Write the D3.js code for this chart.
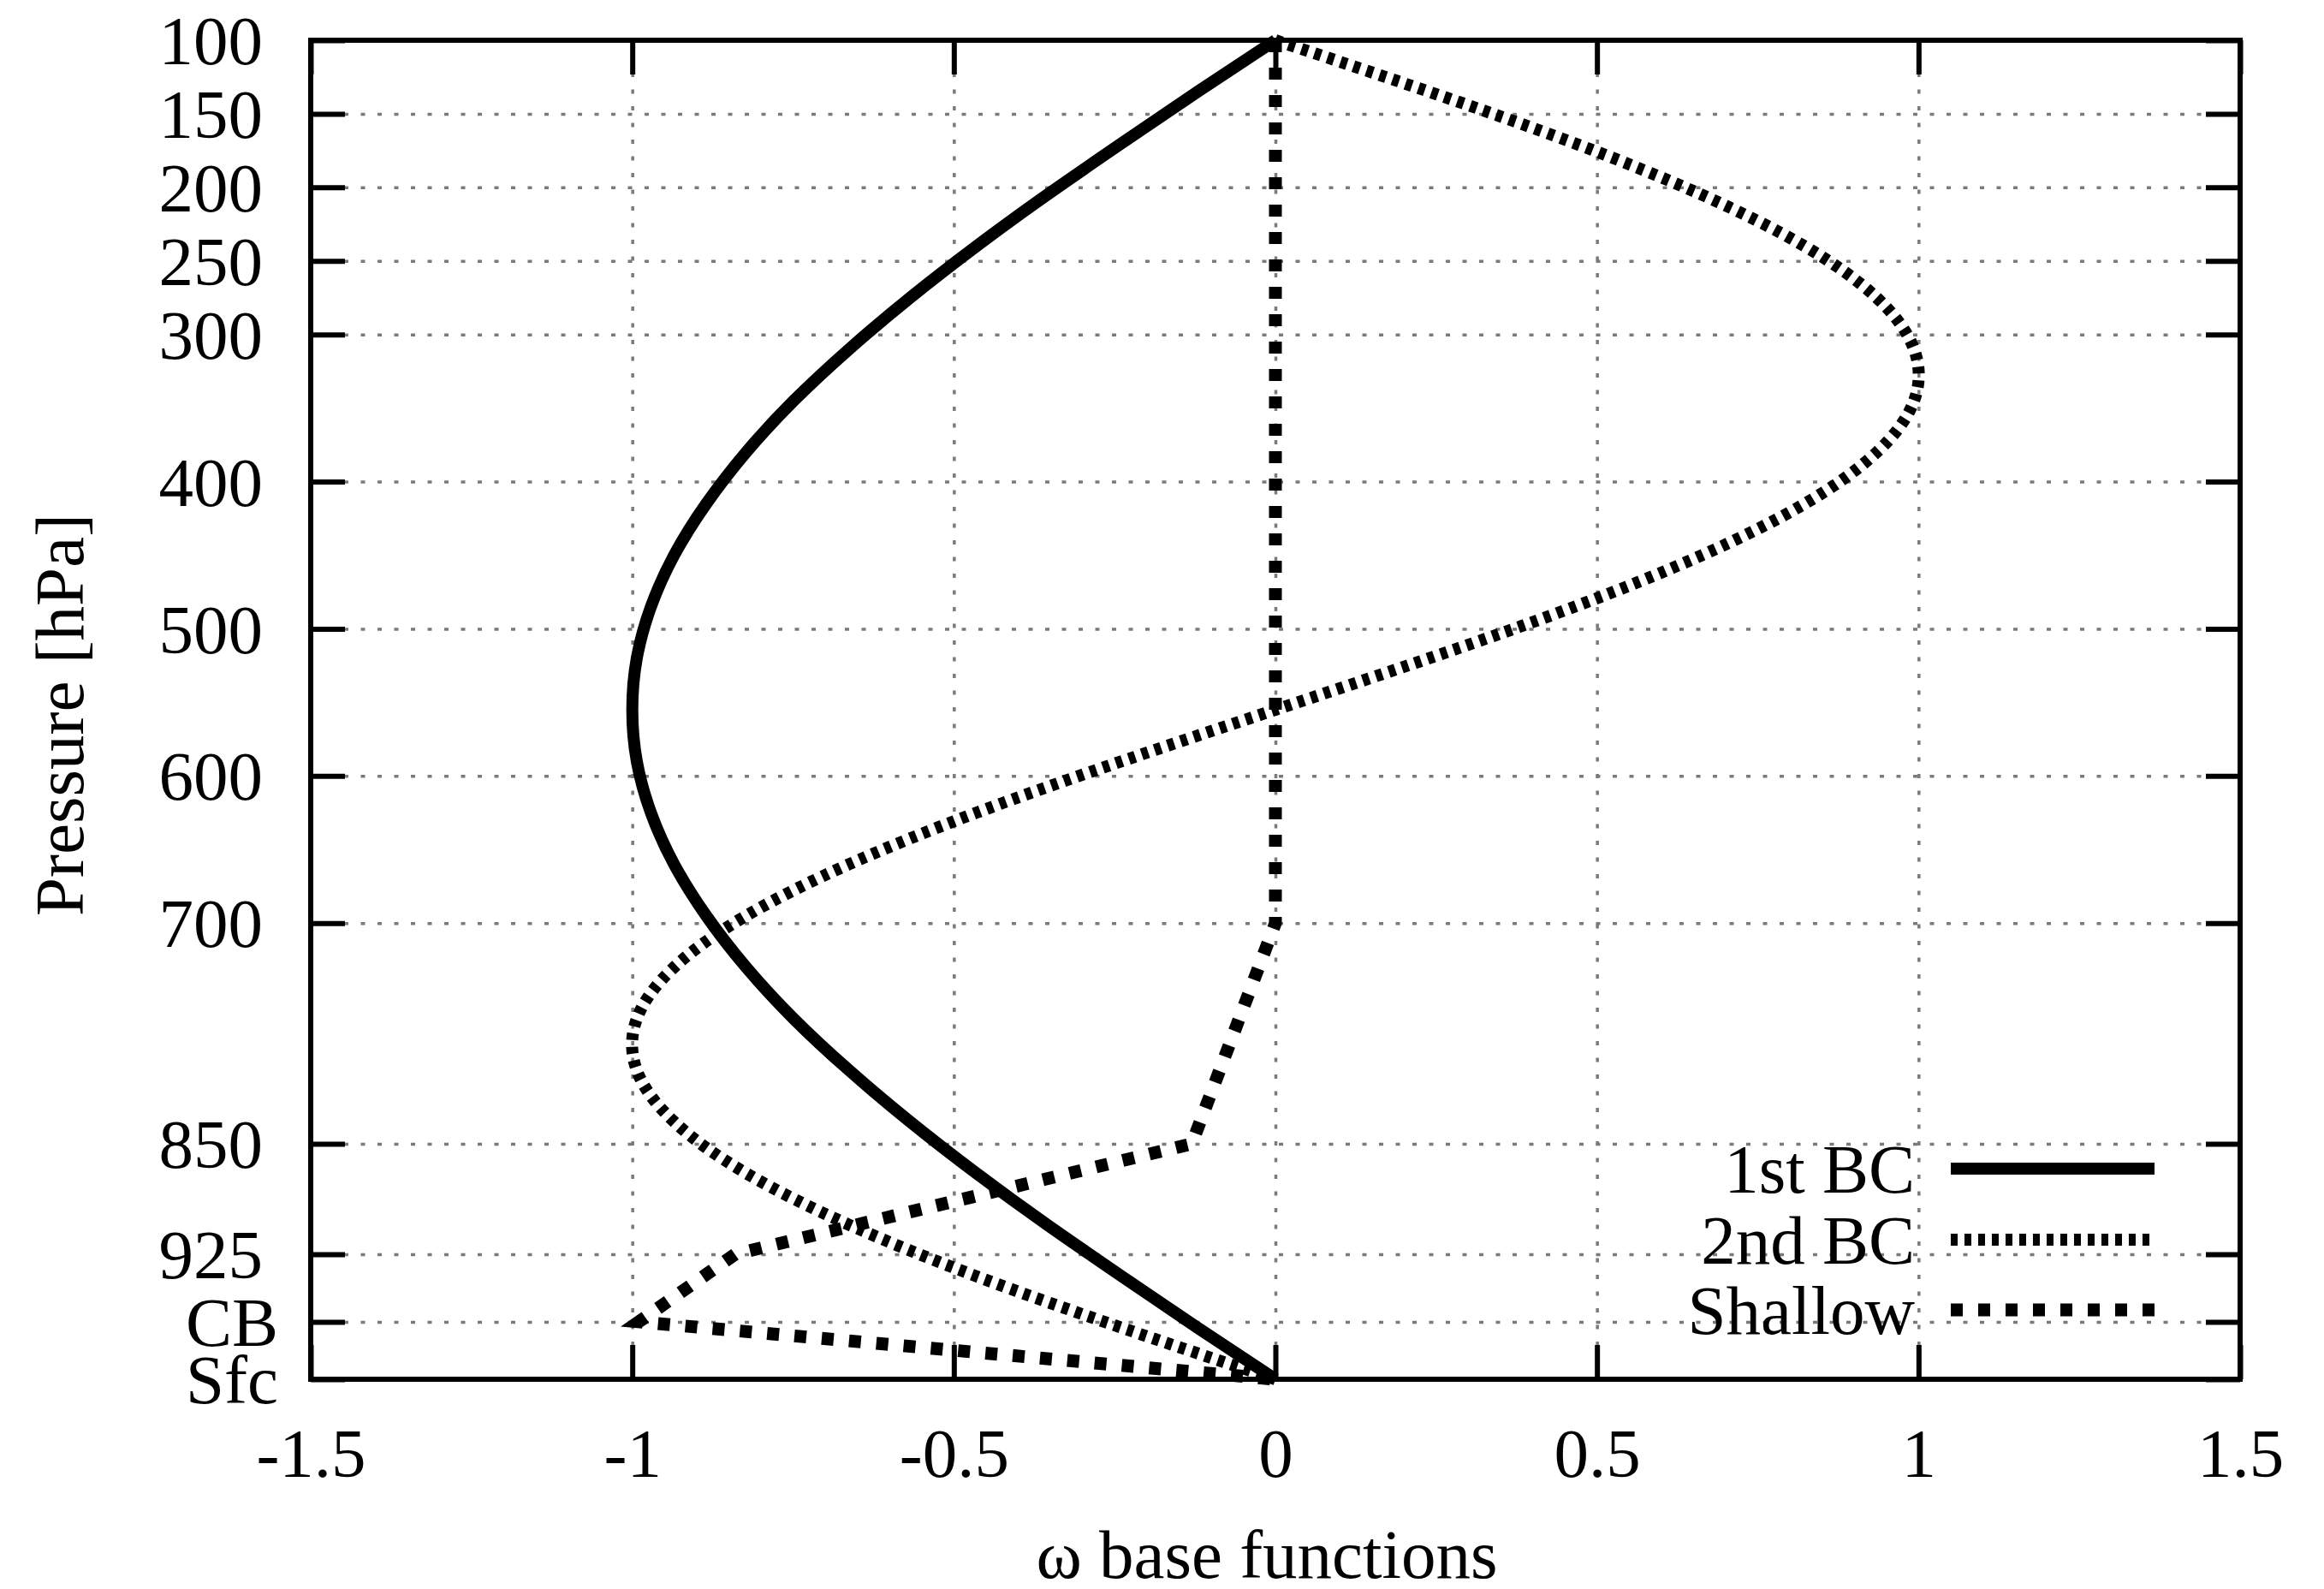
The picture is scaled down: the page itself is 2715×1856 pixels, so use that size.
<!DOCTYPE html>
<html>
<head>
<meta charset="utf-8">
<script src="https://cdn.jsdelivr.net/npm/d3@7"></script>
<style>
  html, body { margin: 0; padding: 0; background: #fff; }
  svg { display: block; }
  text { font-family: "Liberation Serif", "Times New Roman", serif; fill: #000; }
</style>
</head>
<body>
<svg id="chart" width="2715" height="1856"></svg>
<script>
// ---- data ----
const pressure = [100,135,170,205,240,275,310,345,380,415,450,485,520,555,590,625,660,695,730,765,800,835,870,905,940,975,1010];
const bc1 = [0,-0.121,-0.239,-0.355,-0.465,-0.568,-0.663,-0.749,-0.823,-0.885,-0.935,-0.971,-0.993,-1.0,-0.993,-0.971,-0.935,-0.885,-0.823,-0.749,-0.663,-0.568,-0.465,-0.355,-0.239,-0.121,0];
const bc2 = [0,0.239,0.465,0.663,0.823,0.935,0.993,0.993,0.935,0.823,0.663,0.465,0.239,0,-0.239,-0.465,-0.663,-0.823,-0.935,-0.993,-0.993,-0.935,-0.823,-0.663,-0.465,-0.239,0];
const shallowP = [100,700,850,925,971,1010];
const shallowV = [0,0,-0.13,-0.84,-0.99,0];
const seriesNames = ["1st BC","2nd BC","Shallow"];
const xTicks = [-1.5,-1,-0.5,0,0.5,1,1.5];
const xTickLabels = ["-1.5","-1","-0.5","0","0.5","1","1.5"];
const yTicks = [100,150,200,250,300,400,500,600,700,850,925,971,1010];
const yTickLabels = ["100","150","200","250","300","400","500","600","700","850","925","CB","Sfc"];
const xTitle = "ω base functions";
const yTitle = "Pressure [hPa]";

// ---- layout ----
const L = 363, R = 2617, T = 47, B = 1611;
const svg = d3.select("#chart");
svg.append("rect").attr("width",2715).attr("height",1856).attr("fill","#fff");

const x = d3.scaleLinear().domain([-1.5,1.5]).range([L,R]);
const y = d3.scaleLinear().domain([100,1010]).range([T,B]);

const FS = 81;

// grid
const gridX = xTicks.filter(v => v > -1.5 && v < 1.5);
const gridY = yTicks.filter(v => v > 100 && v < 1010);
const gGrid = svg.append("g");
gGrid.append("g").attr("transform",`translate(0,${B})`)
  .call(d3.axisBottom(x).tickValues(gridX).tickSize(-(B-T)).tickFormat(""))
  .call(g => g.select(".domain").remove());
gGrid.append("g").attr("transform",`translate(${L},0)`)
  .call(d3.axisLeft(y).tickValues(gridY).tickSize(-(R-L)).tickFormat(""))
  .call(g => g.select(".domain").remove());
gGrid.selectAll("line")
  .attr("stroke","#7a7a7a").attr("stroke-width",3.5).attr("stroke-dasharray","5,14.5");

// series
const line = d3.line().x(d => x(d[1])).y(d => y(d[0]));
const d1 = pressure.map((p,i) => [p, bc1[i]]);
const d2 = pressure.map((p,i) => [p, bc2[i]]);
const d3s = shallowP.map((p,i) => [p, shallowV[i]]);
const styles = [
  {dash: null, w: 14},
  {dash: "8,8", w: 14},
  {dash: "14,18", w: 15}
];
const gLines = svg.append("g").attr("fill","none").attr("stroke","#000");
gLines.append("path").attr("d", line.curve(d3.curveNatural)(d1))
  .attr("stroke-width", styles[0].w);
gLines.append("path").attr("d", line.curve(d3.curveNatural)(d2))
  .attr("stroke-width", styles[1].w).attr("stroke-dasharray", styles[1].dash);
gLines.append("path").attr("d", line.curve(d3.curveLinear)(d3s))
  .attr("stroke-width", styles[2].w).attr("stroke-dasharray", styles[2].dash);

// axes ticks (inward, mirrored)
const TK = 40;
const axB = svg.append("g").attr("transform",`translate(0,${B})`)
  .call(d3.axisBottom(x).tickValues(xTicks).tickSize(-TK).tickFormat((d,i) => xTickLabels[i]));
const axT = svg.append("g").attr("transform",`translate(0,${T})`)
  .call(d3.axisTop(x).tickValues(xTicks).tickSize(-TK).tickFormat(""));
const axL = svg.append("g").attr("transform",`translate(${L},0)`)
  .call(d3.axisLeft(y).tickValues(yTicks).tickSize(-TK).tickFormat((d,i) => yTickLabels[i]));
const axR = svg.append("g").attr("transform",`translate(${R},0)`)
  .call(d3.axisRight(y).tickValues(yTicks).tickSize(-TK).tickFormat(""));
[axB,axT,axL,axR].forEach(a => {
  a.select(".domain").remove();
  a.selectAll(".tick line").attr("stroke","#000").attr("stroke-width",6);
  a.attr("font-family",null).attr("font-size",null);
});
axB.selectAll(".tick text")
  .attr("y", 114).attr("dy", null)
  .style("font-size", FS+"px");
axL.selectAll(".tick text")
  .attr("x", (d,i) => isNaN(+yTickLabels[i]) ? -38 : -56)
  .attr("dy", "0.34em")
  .style("font-size", FS+"px");

// frame
svg.append("rect").attr("x",L).attr("y",T).attr("width",R-L).attr("height",B-T)
  .attr("fill","none").attr("stroke","#000").attr("stroke-width",6);

// titles
svg.append("text").attr("x",1480).attr("y",1843).attr("text-anchor","middle")
  .style("font-size", FS+"px").text(xTitle);
svg.append("text").attr("transform","translate(97,835) rotate(-90)").attr("text-anchor","middle")
  .style("font-size", FS+"px").text(yTitle);

// legend
const legY = [1365, 1448, 1530];
const lg = svg.append("g");
seriesNames.forEach((name,i) => {
  lg.append("text").attr("x",2237).attr("y",legY[i]).attr("dy","0.34em")
    .attr("text-anchor","end").style("font-size", FS+"px").text(name);
  lg.append("line").attr("x1",2279).attr("x2",2517).attr("y1",legY[i]).attr("y2",legY[i])
    .attr("stroke","#000").attr("stroke-width",styles[i].w)
    .attr("stroke-dasharray",styles[i].dash);
});
</script>
</body>
</html>
